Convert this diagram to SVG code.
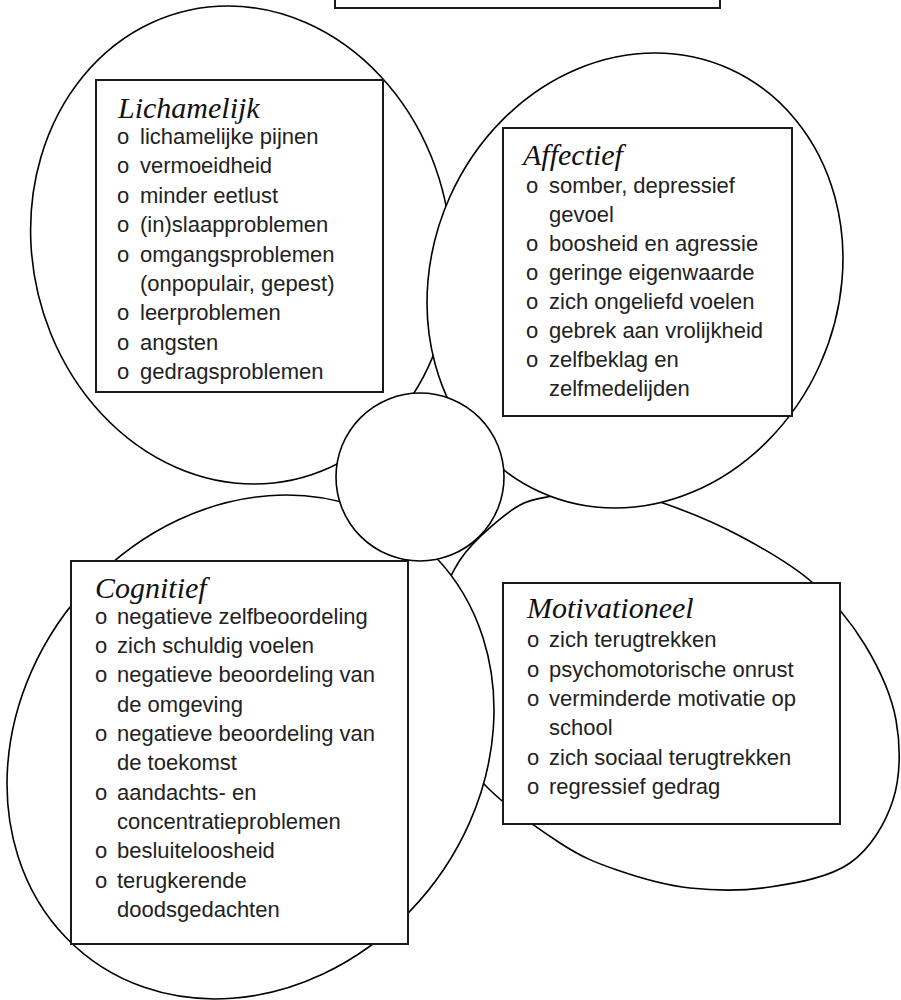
<svg xmlns="http://www.w3.org/2000/svg" width="901" height="1000" viewBox="0 0 901 1000">
<style>
.shape{fill:#fff;stroke:#000;stroke-width:1.6}
.ell{vector-effect:non-scaling-stroke}
.box{fill:#fff;stroke:#1a1a1a;stroke-width:2}
.head{font-family:"Liberation Serif","Times New Roman",serif;font-style:italic;font-size:30px;fill:#111}
.item{font-family:"Liberation Sans",Arial,sans-serif;font-size:22px;fill:#222}
</style>
<rect width="901" height="1000" fill="#fff"/>
<g id="top-box">
<rect class="box" x="335" y="-10" width="385" height="18"/>
</g>
<g id="motivationeel">
<path class="shape" d="M520,505 C531,499 538.8,498.7 553,496 C567.2,493.3 586.7,487.8 605,489 C623.3,490.2 640.5,495.2 663,503 C685.5,510.8 715,522.7 740,536 C765,549.3 792.2,564.8 813,583 C833.8,601.2 851.2,622.2 865,645 C878.8,667.8 891.3,694.2 896,720 C900.7,745.8 900.7,776.2 893,800 C885.3,823.8 870.5,848.5 850,863 C829.5,877.5 796.7,882.8 770,887 C743.3,891.2 715.5,890.8 690,888 C664.5,885.2 638.7,877.5 617,870 C595.3,862.5 582.3,857.5 560,843 C537.7,828.5 502.2,803.5 483,783 C463.8,762.5 453.5,743.8 445,720 C436.5,696.2 429.5,666.7 432,640 C434.5,613.3 445.3,582.5 460,560 C474.7,537.5 509,511 520,505 Z"/>
<rect class="box" x="503" y="583" width="337" height="241"/>
<text class="head" x="527" y="618">Motivationeel</text>
<g class="item">
<text x="527" y="647">o</text><text x="549" y="647">zich terugtrekken</text>
<text x="527" y="676.5">o</text><text x="549" y="676.5">psychomotorische onrust</text>
<text x="527" y="706">o</text><text x="549" y="706">verminderde motivatie op</text>
<text x="549" y="735">school</text>
<text x="527" y="764.5">o</text><text x="549" y="764.5">zich sociaal terugtrekken</text>
<text x="527" y="794">o</text><text x="549" y="794">regressief gedrag</text>
</g>
</g>
<g id="cognitief">
<circle class="shape ell" r="1" transform="matrix(242.8 -18.2 -18.2 251.3 250.5 747)"/>
<rect class="box" x="71" y="561" width="337" height="383"/>
<text class="head" x="95" y="598">Cognitief</text>
<g class="item">
<text x="95" y="624">o</text><text x="117" y="624">negatieve zelfbeoordeling</text>
<text x="95" y="653">o</text><text x="117" y="653">zich schuldig voelen</text>
<text x="95" y="682">o</text><text x="117" y="682">negatieve beoordeling van</text>
<text x="117" y="711.5">de omgeving</text>
<text x="95" y="741">o</text><text x="117" y="741">negatieve beoordeling van</text>
<text x="117" y="770">de toekomst</text>
<text x="95" y="799.5">o</text><text x="117" y="799.5">aandachts- en</text>
<text x="117" y="829">concentratieproblemen</text>
<text x="95" y="858">o</text><text x="117" y="858">besluiteloosheid</text>
<text x="95" y="887.5">o</text><text x="117" y="887.5">terugkerende</text>
<text x="117" y="916.5">doodsgedachten</text>
</g>
</g>
<g id="lichamelijk">
<circle class="shape ell" r="1" transform="matrix(210 0 13 239 241 245)"/>
<rect class="box" x="96" y="80" width="287" height="312"/>
<text class="head" x="118" y="118">Lichamelijk</text>
<g class="item">
<text x="117" y="144">o</text><text x="140" y="144">lichamelijke pijnen</text>
<text x="117" y="173.4">o</text><text x="140" y="173.4">vermoeidheid</text>
<text x="117" y="202.8">o</text><text x="140" y="202.8">minder eetlust</text>
<text x="117" y="232.2">o</text><text x="140" y="232.2">(in)slaapproblemen</text>
<text x="117" y="261.6">o</text><text x="140" y="261.6">omgangsproblemen</text>
<text x="140" y="291">(onpopulair, gepest)</text>
<text x="117" y="320.4">o</text><text x="140" y="320.4">leerproblemen</text>
<text x="117" y="349.8">o</text><text x="140" y="349.8">angsten</text>
<text x="117" y="379.2">o</text><text x="140" y="379.2">gedragsproblemen</text>
</g>
</g>
<g id="affectief">
<circle class="shape ell" r="1" transform="matrix(207 0 -20 227.5 635 280.5)"/>
<rect class="box" x="503" y="128" width="289" height="288"/>
<text class="head" x="523" y="165">Affectief</text>
<g class="item">
<text x="526" y="192.7">o</text><text x="549" y="192.7">somber, depressief</text>
<text x="549" y="221.7">gevoel</text>
<text x="526" y="250.7">o</text><text x="549" y="250.7">boosheid en agressie</text>
<text x="526" y="279.7">o</text><text x="549" y="279.7">geringe eigenwaarde</text>
<text x="526" y="308.7">o</text><text x="549" y="308.7">zich ongeliefd voelen</text>
<text x="526" y="337.7">o</text><text x="549" y="337.7">gebrek aan vrolijkheid</text>
<text x="526" y="366.7">o</text><text x="549" y="366.7">zelfbeklag en</text>
<text x="549" y="395.7">zelfmedelijden</text>
</g>
</g>
<g id="center">
<circle class="shape" cx="420" cy="477" r="84"/>
</g>
</svg>
